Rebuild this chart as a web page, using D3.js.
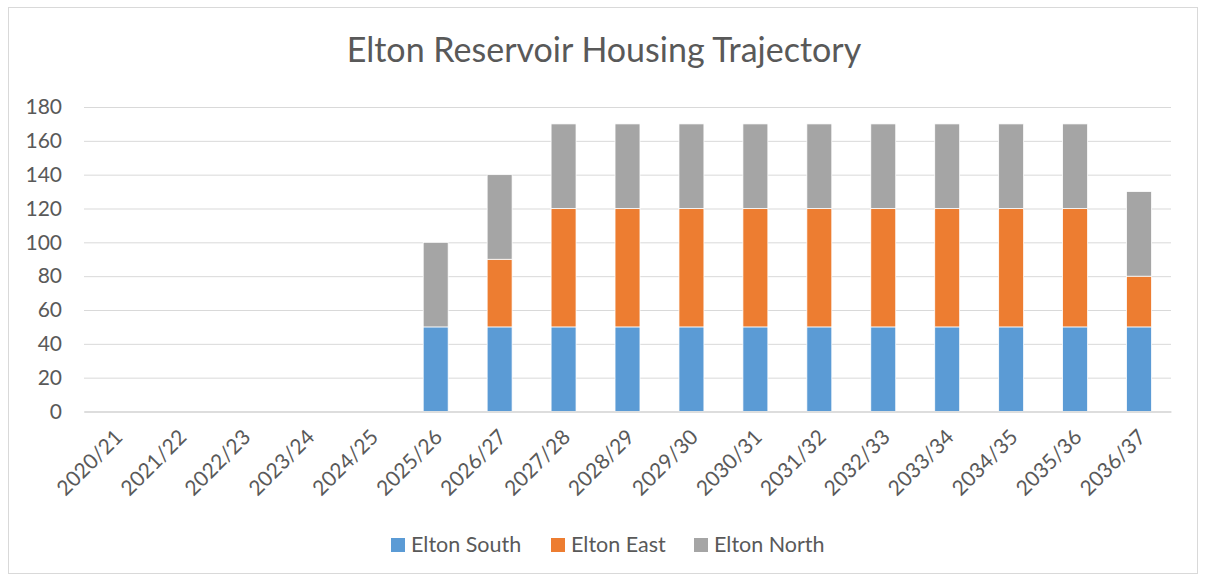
<!DOCTYPE html>
<html><head><meta charset="utf-8">
<script src="https://cdn.jsdelivr.net/npm/d3@7"></script>
<style>body{margin:0;background:#fff}</style>
</head><body>
<svg id="c" width="1205" height="581"></svg>
<script>
const categories = ["2020/21","2021/22","2022/23","2023/24","2024/25","2025/26","2026/27","2027/28","2028/29","2029/30","2030/31","2031/32","2032/33","2033/34","2034/35","2035/36","2036/37"];
const eltonSouth = [0,0,0,0,0,50,50,50,50,50,50,50,50,50,50,50,50];
const eltonEast  = [0,0,0,0,0,0,40,70,70,70,70,70,70,70,70,70,30];
const eltonNorth = [0,0,0,0,0,50,50,50,50,50,50,50,50,50,50,50,50];
const seriesNames = ["Elton South","Elton East","Elton North"];
const colors = ["#5B9BD5","#ED7D31","#A5A5A5"];
const yTicks = [0,20,40,60,80,100,120,140,160,180];
const title = "Elton Reservoir Housing Trajectory";

(function(){
const font = "Lato, 'Open Sans', sans-serif";
const svg = d3.select("#c");
svg.append("rect").attr("x",8.5).attr("y",7.5).attr("width",1189).attr("height",566)
  .attr("fill","#fff").attr("stroke","#D9D9D9").attr("stroke-width",1);

const pL=84, pR=1171, pT=107, pB=411.5;
const x = d3.scaleBand().domain(categories).range([pL,pR]).paddingInner(0.61).paddingOuter(0.305);
const y = d3.scaleLinear().domain([0,180]).range([pB,pT]);

const ya = d3.axisLeft(y).tickValues(yTicks).tickSize(-(pR-pL)).tickPadding(22);
const gy = svg.append("g").attr("transform",`translate(${pL},0)`).call(ya);
gy.select(".domain").remove();
gy.selectAll(".tick line").attr("stroke","#D9D9D9").attr("stroke-width",1);
gy.selectAll(".tick text").attr("fill","#595959").style("font-family",font).style("font-size","21px");

const data = categories.map((c,i)=>({cat:c,"Elton South":eltonSouth[i],"Elton East":eltonEast[i],"Elton North":eltonNorth[i]}));
const stack = d3.stack().keys(seriesNames)(data);
svg.append("g").selectAll("g").data(stack).join("g").attr("fill",(d,i)=>colors[i])
  .selectAll("rect").data(d=>d.filter(p=>p[1]-p[0]>0)).join("rect")
  .attr("x",d=>x(d.data.cat)).attr("width",x.bandwidth())
  .attr("y",d=>y(d[1])).attr("height",d=>y(d[0])-y(d[1]))
  .attr("stroke","#fff").attr("stroke-width",0.75);

const xa = d3.axisBottom(x).tickSize(0).tickPadding(0);
const gx = svg.append("g").attr("transform",`translate(0,${pB})`).call(xa);
gx.select(".domain").attr("stroke","#D9D9D9").attr("stroke-width",1.5);
gx.selectAll(".tick text").attr("fill","#595959").style("font-family",font).style("font-size","21px")
  .attr("text-anchor","end").attr("dy","0").attr("y",0).attr("transform","translate(8,27) rotate(-45)");

svg.append("text").attr("x",604).attr("y",62).attr("text-anchor","middle")
  .attr("fill","#595959").style("font-family",font).style("font-size","34px").text(title);

const legX=[391,551,694];
const lg = svg.append("g");
seriesNames.forEach((n,i)=>{
  lg.append("rect").attr("x",legX[i]).attr("y",538).attr("width",14).attr("height",14).attr("fill",colors[i]);
  lg.append("text").attr("x",legX[i]+20).attr("y",552).attr("fill","#595959")
    .style("font-family",font).style("font-size","21.5px").text(n);
});
})();
</script>
</body></html>
